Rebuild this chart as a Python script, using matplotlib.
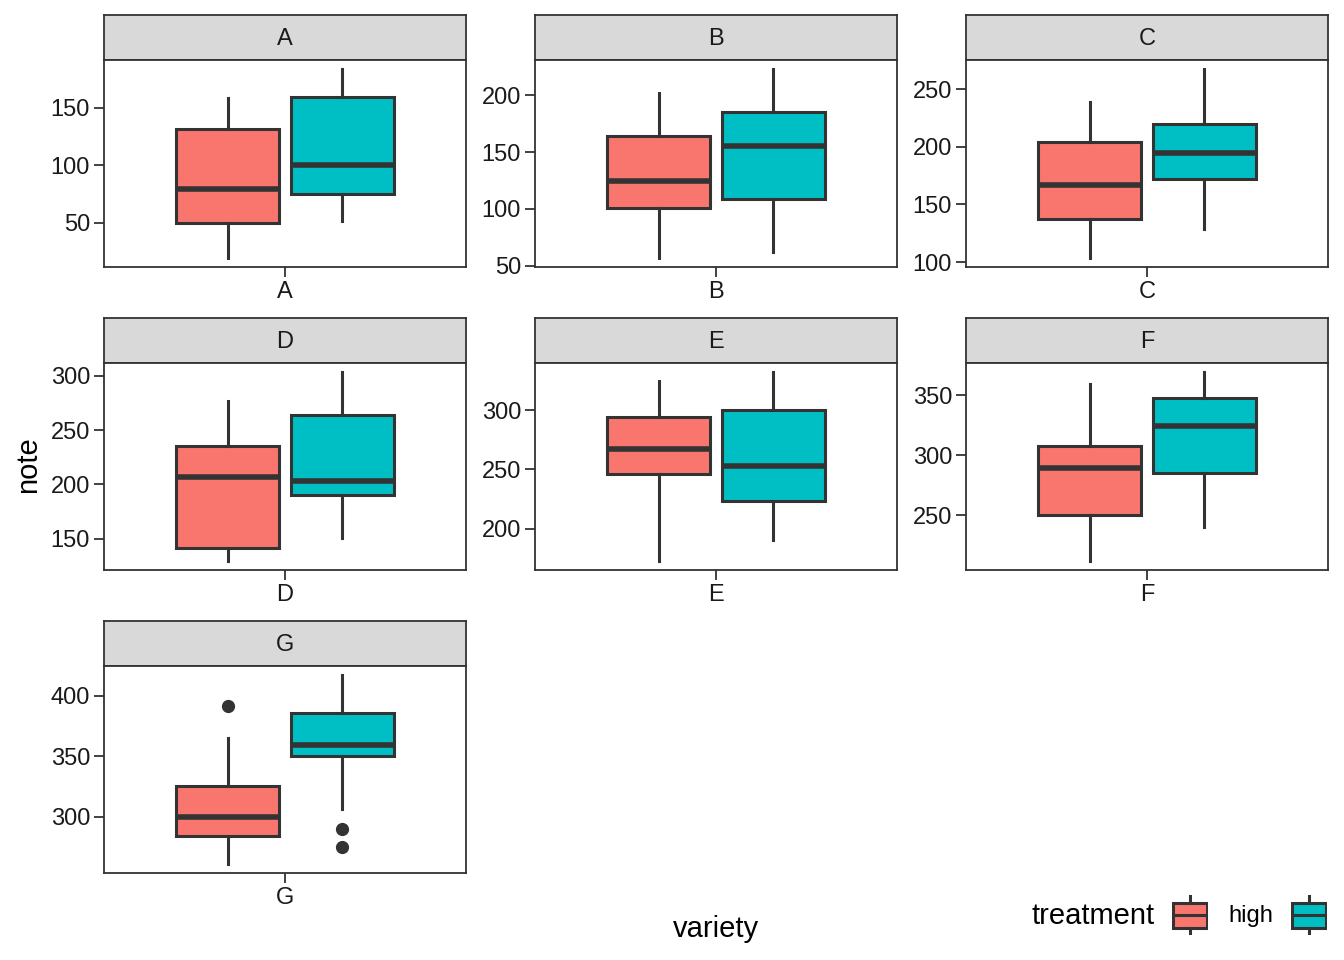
import matplotlib
matplotlib.use('Agg')
import matplotlib.pyplot as plt
from matplotlib.patches import Rectangle
from matplotlib.ticker import MultipleLocator

plt.rcParams['font.family'] = ['Liberation Sans', 'DejaVu Sans']

# data (box stats per variety and treatment)
varieties = ['A', 'B', 'C', 'D', 'E', 'F', 'G']

high_whislo = [20, 57, 104, 130, 173, 212, 261]
high_q1 = [50, 101, 137, 142, 246, 250, 284]
high_med = [79, 125, 167, 207, 267, 289, 300]
high_q3 = [131, 164, 204, 235, 294, 308, 325]
high_whishi = [158, 202, 239, 277, 325, 359, 365]
high_fliers = [[], [], [], [], [], [], [392]]

low_whislo = [52, 62, 129, 151, 190, 240, 306]
low_q1 = [75, 109, 172, 190, 223, 285, 350]
low_med = [100, 155, 195, 203, 253, 324, 359]
low_q3 = [159, 185, 220, 264, 300, 348, 386]
low_whishi = [183, 223, 267, 303, 332, 369, 417]
low_fliers = [[], [], [], [], [], [], [290, 275]]

treatments = ['high', 'low']
colors = ['#F8766D', '#00BFC4']

W, H = 1344, 960
DARK = '#333333'


def px(x0, y0, w, h):
    return [x0 / W, 1 - (y0 + h) / H, w / W, h / H]


fig = plt.figure(figsize=(W / 100, H / 100), dpi=100)
fig.patch.set_facecolor('white')

col_x = [104, 535, 966]
row_y = [15, 318, 621]
pw, sh, ph = 362, 45, 207

for i, v in enumerate(varieties):
    c, r = i % 3, i // 3
    x0, y0 = col_x[c], row_y[r]

    # strip
    axs = fig.add_axes(px(x0, y0, pw, sh))
    axs.set_facecolor('#D9D9D9')
    axs.set_xticks([])
    axs.set_yticks([])
    for s in axs.spines.values():
        s.set_color(DARK)
        s.set_linewidth(1.3)
    axs.text(0.5, 0.47, v, ha='center', va='center', fontsize=17, color='#1A1A1A',
             transform=axs.transAxes)

    ax = fig.add_axes(px(x0, y0 + sh, pw, ph))
    stats = [
        dict(med=high_med[i], q1=high_q1[i], q3=high_q3[i], whislo=high_whislo[i],
             whishi=high_whishi[i], fliers=high_fliers[i]),
        dict(med=low_med[i], q1=low_q1[i], q3=low_q3[i], whislo=low_whislo[i],
             whishi=low_whishi[i], fliers=low_fliers[i]),
    ]
    bp = ax.bxp(stats, positions=[1 - 0.19, 1 + 0.19], widths=0.34, patch_artist=True,
                showcaps=False,
                boxprops=dict(edgecolor=DARK, linewidth=2.2),
                whiskerprops=dict(color=DARK, linewidth=2.2),
                medianprops=dict(color=DARK, linewidth=4, solid_capstyle='butt'),
                flierprops=dict(marker='o', markerfacecolor=DARK, markeredgecolor=DARK,
                                markersize=8.5))
    for patch, col in zip(bp['boxes'], colors):
        patch.set_facecolor(col)

    allv = [high_whislo[i], low_whislo[i], high_whishi[i], low_whishi[i]] + \
        high_fliers[i] + low_fliers[i]
    lo, hi = min(allv), max(allv)
    pad = 0.05 * (hi - lo)
    ax.set_ylim(lo - pad, hi + pad)
    ax.set_xlim(0.4, 1.6)
    ax.yaxis.set_major_locator(MultipleLocator(50))
    ax.set_xticks([1])
    ax.set_xticklabels([v])
    ax.tick_params(length=7, width=1.3, color=DARK, labelsize=17, labelcolor='#1A1A1A', pad=3)
    for s in ax.spines.values():
        s.set_color(DARK)
        s.set_linewidth(1.3)

# axis titles
fig.text(28 / W, 1 - 465 / H, 'note', rotation=90, ha='center', va='center', fontsize=21)
fig.text(716 / W, 1 - 929 / H, 'variety', ha='center', va='center', fontsize=21)

# legend
fig.text(1032 / W, 1 - 916 / H, 'treatment', ha='left', va='center', fontsize=21)
fig.text(1228 / W, 1 - 916 / H, treatments[0], ha='left', va='center', fontsize=17)
for kx, col in zip([1172, 1291], colors):
    ak = fig.add_axes(px(kx, 895, 36, 40))
    ak.set_xlim(0, 1)
    ak.set_ylim(0, 1)
    ak.axis('off')
    ak.add_patch(Rectangle((0.03, 0.175), 0.94, 0.625, facecolor=col, edgecolor=DARK, linewidth=2.2))
    ak.plot([0.03, 0.97], [0.49, 0.49], color=DARK, linewidth=2.2)
    ak.plot([0.5, 0.5], [0.0, 0.175], color=DARK, linewidth=2.2)
    ak.plot([0.5, 0.5], [0.8, 1.0], color=DARK, linewidth=2.2)

plt.savefig('out.png', dpi=100, facecolor='white')
plt.close()
